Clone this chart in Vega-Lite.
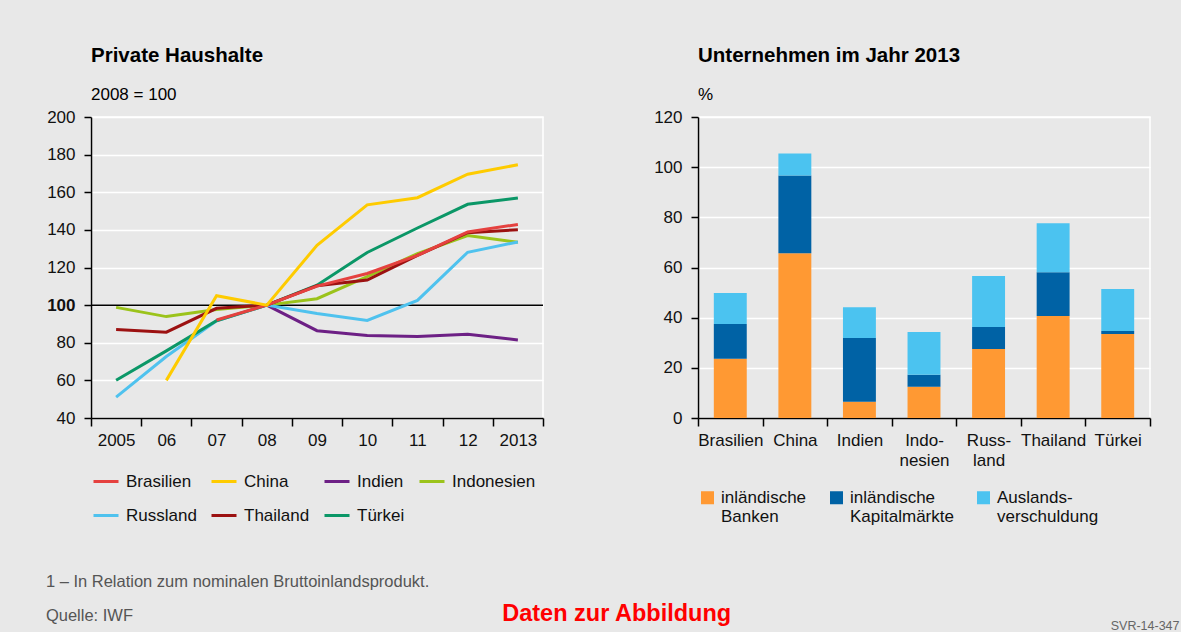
{
  "$schema": "https://vega.github.io/schema/vega-lite/v6.json",
  "background": "#e8e8e8",
  "padding": {"left": 45, "top": 44, "right": 30, "bottom": 10},
  "datasets": {
    "haushalte": [
      {"Land": "Indien", "Jahr": "08", "Index": 100},
      {"Land": "Indien", "Jahr": "09", "Index": 86.4},
      {"Land": "Indien", "Jahr": "10", "Index": 83.8},
      {"Land": "Indien", "Jahr": "11", "Index": 83.3},
      {"Land": "Indien", "Jahr": "12", "Index": 84.5},
      {"Land": "Indien", "Jahr": "2013", "Index": 81.5},
      {"Land": "Indonesien", "Jahr": "2005", "Index": 98.8},
      {"Land": "Indonesien", "Jahr": "06", "Index": 93.9},
      {"Land": "Indonesien", "Jahr": "07", "Index": 97.7},
      {"Land": "Indonesien", "Jahr": "08", "Index": 100},
      {"Land": "Indonesien", "Jahr": "09", "Index": 103.4},
      {"Land": "Indonesien", "Jahr": "10", "Index": 115.1},
      {"Land": "Indonesien", "Jahr": "11", "Index": 127.4},
      {"Land": "Indonesien", "Jahr": "12", "Index": 137.0},
      {"Land": "Indonesien", "Jahr": "2013", "Index": 133.4},
      {"Land": "Russland", "Jahr": "2005", "Index": 51.1},
      {"Land": "Russland", "Jahr": "06", "Index": 72.7},
      {"Land": "Russland", "Jahr": "07", "Index": 91.7},
      {"Land": "Russland", "Jahr": "08", "Index": 100},
      {"Land": "Russland", "Jahr": "09", "Index": 95.5},
      {"Land": "Russland", "Jahr": "10", "Index": 91.9},
      {"Land": "Russland", "Jahr": "11", "Index": 102.5},
      {"Land": "Russland", "Jahr": "12", "Index": 128.1},
      {"Land": "Russland", "Jahr": "2013", "Index": 133.6},
      {"Land": "Türkei", "Jahr": "2005", "Index": 60.1},
      {"Land": "Türkei", "Jahr": "06", "Index": 75.7},
      {"Land": "Türkei", "Jahr": "07", "Index": 91.7},
      {"Land": "Türkei", "Jahr": "08", "Index": 100},
      {"Land": "Türkei", "Jahr": "09", "Index": 110.6},
      {"Land": "Türkei", "Jahr": "10", "Index": 128.0},
      {"Land": "Türkei", "Jahr": "11", "Index": 141.0},
      {"Land": "Türkei", "Jahr": "12", "Index": 153.6},
      {"Land": "Türkei", "Jahr": "2013", "Index": 156.9},
      {"Land": "Thailand", "Jahr": "2005", "Index": 87.0},
      {"Land": "Thailand", "Jahr": "06", "Index": 85.6},
      {"Land": "Thailand", "Jahr": "07", "Index": 98.3},
      {"Land": "Thailand", "Jahr": "08", "Index": 100},
      {"Land": "Thailand", "Jahr": "09", "Index": 110.3},
      {"Land": "Thailand", "Jahr": "10", "Index": 113.3},
      {"Land": "Thailand", "Jahr": "11", "Index": 126.4},
      {"Land": "Thailand", "Jahr": "12", "Index": 138.5},
      {"Land": "Thailand", "Jahr": "2013", "Index": 140.1},
      {"Land": "Brasilien", "Jahr": "07", "Index": 92.1},
      {"Land": "Brasilien", "Jahr": "08", "Index": 100},
      {"Land": "Brasilien", "Jahr": "09", "Index": 110.1},
      {"Land": "Brasilien", "Jahr": "10", "Index": 116.8},
      {"Land": "Brasilien", "Jahr": "11", "Index": 126.4},
      {"Land": "Brasilien", "Jahr": "12", "Index": 138.9},
      {"Land": "Brasilien", "Jahr": "2013", "Index": 142.9},
      {"Land": "China", "Jahr": "06", "Index": 60.0},
      {"Land": "China", "Jahr": "07", "Index": 105.0},
      {"Land": "China", "Jahr": "08", "Index": 100},
      {"Land": "China", "Jahr": "09", "Index": 131.8},
      {"Land": "China", "Jahr": "10", "Index": 153.3},
      {"Land": "China", "Jahr": "11", "Index": 157.1},
      {"Land": "China", "Jahr": "12", "Index": 169.6},
      {"Land": "China", "Jahr": "2013", "Index": 174.6}
    ],
    "referenz": [{"Index": 100}],
    "unternehmen": [
      {"Land": "Brasilien", "Komponente": "inländische Banken", "Rang": 1, "Anteil": 23.6},
      {"Land": "Brasilien", "Komponente": "inländische Kapitalmärkte", "Rang": 2, "Anteil": 13.9},
      {"Land": "Brasilien", "Komponente": "Auslandsverschuldung", "Rang": 3, "Anteil": 12.3},
      {"Land": "China", "Komponente": "inländische Banken", "Rang": 1, "Anteil": 65.7},
      {"Land": "China", "Komponente": "inländische Kapitalmärkte", "Rang": 2, "Anteil": 31.0},
      {"Land": "China", "Komponente": "Auslandsverschuldung", "Rang": 3, "Anteil": 8.7},
      {"Land": "Indien", "Komponente": "inländische Banken", "Rang": 1, "Anteil": 6.5},
      {"Land": "Indien", "Komponente": "inländische Kapitalmärkte", "Rang": 2, "Anteil": 25.4},
      {"Land": "Indien", "Komponente": "Auslandsverschuldung", "Rang": 3, "Anteil": 12.3},
      {"Land": "Indonesien", "Komponente": "inländische Banken", "Rang": 1, "Anteil": 12.5},
      {"Land": "Indonesien", "Komponente": "inländische Kapitalmärkte", "Rang": 2, "Anteil": 4.7},
      {"Land": "Indonesien", "Komponente": "Auslandsverschuldung", "Rang": 3, "Anteil": 17.1},
      {"Land": "Russland", "Komponente": "inländische Banken", "Rang": 1, "Anteil": 27.5},
      {"Land": "Russland", "Komponente": "inländische Kapitalmärkte", "Rang": 2, "Anteil": 8.8},
      {"Land": "Russland", "Komponente": "Auslandsverschuldung", "Rang": 3, "Anteil": 20.3},
      {"Land": "Thailand", "Komponente": "inländische Banken", "Rang": 1, "Anteil": 40.7},
      {"Land": "Thailand", "Komponente": "inländische Kapitalmärkte", "Rang": 2, "Anteil": 17.4},
      {"Land": "Thailand", "Komponente": "Auslandsverschuldung", "Rang": 3, "Anteil": 19.5},
      {"Land": "Türkei", "Komponente": "inländische Banken", "Rang": 1, "Anteil": 33.5},
      {"Land": "Türkei", "Komponente": "inländische Kapitalmärkte", "Rang": 2, "Anteil": 1.2},
      {"Land": "Türkei", "Komponente": "Auslandsverschuldung", "Rang": 3, "Anteil": 16.7}
    ]
  },
  "title": {"text": "SVR-14-347", "orient": "bottom", "anchor": "end", "fontSize": 12.5, "fontWeight": "normal", "color": "#666666", "offset": -5.5, "dx": 28},
  "vconcat": [
    {
      "title": {"text": "Daten zur Abbildung", "orient": "bottom", "anchor": "middle", "fontSize": 23.5, "fontWeight": "bold", "color": "#ff0000", "offset": -22.5, "dx": 18},
      "vconcat": [
        {
          "title": {"text": "1 – In Relation zum nominalen Bruttoinlandsprodukt.", "subtitle": "Quelle: IWF", "orient": "bottom", "anchor": "start", "fontSize": 16.5, "fontWeight": "normal", "color": "#555555", "subtitleFontSize": 16.5, "subtitleColor": "#555555", "subtitlePadding": 17, "offset": 48.5},
          "resolve": {"scale": {"color": "independent", "x": "independent", "y": "independent"}},
          "spacing": 107,
          "hconcat": [
            {
              "width": 452,
              "height": 301,
              "title": {"text": "Private Haushalte", "subtitle": "2008 = 100", "anchor": "start", "frame": "group", "fontSize": 20.5, "fontWeight": "bold", "color": "#000000", "subtitleFontSize": 17, "subtitleColor": "#000000", "subtitlePadding": 21, "offset": 5},
              "encoding": {
                "y": {"field": "Index", "type": "quantitative",
                  "scale": {"domain": [40, 200], "nice": false, "zero": false},
                  "axis": {"title": null, "values": [40, 60, 80, 100, 120, 140, 160, 180, 200], "tickSize": 7, "labelPadding": 9, "grid": true, "labelOverlap": false,
                    "labelFontWeight": {"condition": {"test": "datum.value == 100", "value": "bold"}, "value": "normal"}}}
              },
              "layer": [
                {
                  "data": {"name": "referenz"},
                  "mark": {"type": "rule", "color": "#000000", "strokeWidth": 1.5},
                  "encoding": {}
                },
                {
                  "data": {"name": "haushalte"},
                  "mark": {"type": "line", "strokeWidth": 3},
                  "encoding": {
                    "x": {"field": "Jahr", "type": "ordinal",
                      "scale": {"type": "band", "domain": ["2005", "06", "07", "08", "09", "10", "11", "12", "2013"], "paddingInner": 0, "paddingOuter": 0},
                      "axis": {"title": null, "labelAngle": 0, "tickBand": "extent", "tickSize": 8, "labelPadding": 6, "grid": false}},
                    "color": {"field": "Land", "type": "nominal",
                      "scale": {"domain": ["Brasilien", "China", "Indien", "Indonesien", "Russland", "Thailand", "Türkei"],
                        "range": ["#e5413f", "#fecb00", "#6d2085", "#9bc31b", "#4fc2ee", "#9c1111", "#0b9767"]},
                      "legend": {"title": null, "orient": "none", "legendX": 1, "legendY": 350.5, "direction": "horizontal", "columns": 4,
                        "columnPadding": 8, "rowPadding": 12, "symbolType": "stroke", "symbolSize": 625, "symbolStrokeWidth": 3, "labelOffset": 6, "padding": 0}}
                  }
                }
              ]
            },
            {
              "width": 452,
              "height": 301,
              "title": {"text": "Unternehmen im Jahr 2013", "subtitle": "%", "anchor": "start", "frame": "group", "fontSize": 20.5, "fontWeight": "bold", "color": "#000000", "subtitleFontSize": 17, "subtitleColor": "#000000", "subtitlePadding": 21, "offset": 5},
              "data": {"name": "unternehmen"},
              "mark": {"type": "bar", "width": {"band": 0.51}},
              "encoding": {
                "x": {"field": "Land", "type": "nominal",
                  "sort": ["Brasilien", "China", "Indien", "Indonesien", "Russland", "Thailand", "Türkei"],
                  "scale": {"paddingInner": 0, "paddingOuter": 0},
                  "axis": {"title": null, "labelAngle": 0, "tickBand": "extent", "tickSize": 8, "labelPadding": 6, "grid": false, "labelLineHeight": 20,
                    "labelExpr": "datum.label == 'Indonesien' ? ['Indo-', 'nesien'] : datum.label == 'Russland' ? ['Russ-', 'land'] : datum.label"}},
                "y": {"field": "Anteil", "type": "quantitative", "stack": "zero",
                  "scale": {"domain": [0, 120], "nice": false},
                  "axis": {"title": null, "values": [0, 20, 40, 60, 80, 100, 120], "tickSize": 7, "labelPadding": 9, "grid": true}},
                "order": {"field": "Rang", "type": "quantitative", "sort": "ascending"},
                "color": {"field": "Komponente", "type": "nominal",
                  "scale": {"domain": ["inländische Banken", "inländische Kapitalmärkte", "Auslandsverschuldung"], "range": ["#ff9933", "#0062a5", "#4bc3f0"]},
                  "legend": {"title": null, "orient": "none", "legendX": 1, "legendY": 372, "direction": "horizontal", "columns": 3,
                    "columnPadding": 21, "symbolType": "square", "symbolSize": 169, "symbolStrokeWidth": 0, "labelOffset": 5, "padding": 0,
                    "labelBaseline": "middle", "labelLineHeight": 22,
                    "labelExpr": "datum.label == 'Auslandsverschuldung' ? ['Auslands-', 'verschuldung'] : ['inländische', slice(datum.label, 12)]"}}
              }
            }
          ]
        }
      ]
    }
  ],
  "config": {
    "font": "Liberation Sans",
    "view": {"stroke": "#ffffff", "strokeWidth": 1.5, "fill": "#e8e8e8"},
    "axis": {"labelFontSize": 17, "labelColor": "#111111", "labelFont": "Liberation Sans", "domainColor": "#000000", "domainWidth": 1.5, "tickColor": "#000000", "tickWidth": 1.5, "gridColor": "#ffffff", "gridWidth": 1.5, "gridOpacity": 1},
    "legend": {"labelFontSize": 17, "labelColor": "#111111", "labelFont": "Liberation Sans", "labelLimit": 300},
    "title": {"font": "Liberation Sans", "subtitleFont": "Liberation Sans"}
  }
}
